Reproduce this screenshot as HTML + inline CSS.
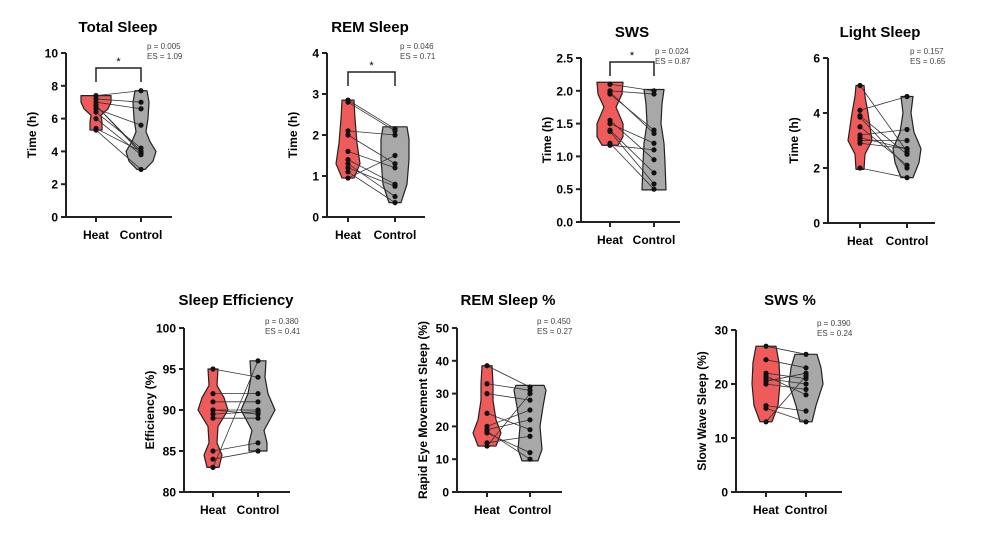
<!DOCTYPE html>
<html><head><meta charset="utf-8"><style>
body{margin:0;background:#fff;}
svg{display:block;font-family:"Liberation Sans",Arial,sans-serif;}
</style></head><body>
<svg id="s" width="982" height="546" viewBox="0 0 982 546" xmlns="http://www.w3.org/2000/svg">
<text x="118" y="32" font-size="15" font-weight="bold" text-anchor="middle">Total Sleep</text>
<text x="370" y="32" font-size="15" font-weight="bold" text-anchor="middle">REM Sleep</text>
<text x="632" y="37" font-size="15" font-weight="bold" text-anchor="middle">SWS</text>
<text x="880" y="37" font-size="15" font-weight="bold" text-anchor="middle">Light Sleep</text>
<text x="236" y="305" font-size="15" font-weight="bold" text-anchor="middle">Sleep Efficiency</text>
<text x="508" y="305" font-size="15" font-weight="bold" text-anchor="middle">REM Sleep %</text>
<text x="790" y="305" font-size="15" font-weight="bold" text-anchor="middle">SWS %</text>
</svg>
<script>
const S=document.getElementById('s');const NS='http://www.w3.org/2000/svg';
function el(t,a,txt){const e=document.createElementNS(NS,t);for(const k in a)e.setAttribute(k,a[k]);if(txt!==undefined)e.textContent=txt;S.appendChild(e);return e;}
const P=[
{ax:66,x2:172,yt:53,yb:217,min:0,max:10,ticks:[0,2,4,6,8,10],lab:"Time (h)",hx:96,cx:141,p:"0.005",es:"1.09",sig:1,sy:68,
 hv:[[5.3,6],[5.8,6],[6.2,5],[6.6,12],[7.0,15],[7.4,15]],cv:[[2.9,4],[3.4,12],[4.0,15],[4.6,9],[5.2,5],[6,7],[7,8],[7.7,6]],
 h:[7.4,7.2,6.8,6.8,6.4,6.0,5.4,5.3,7.0,6.6],c:[7.7,7.0,4.0,3.9,4.2,3.8,4.0,2.9,6.6,5.6]},
{ax:327,x2:425,yt:53,yb:217,min:0,max:4,ticks:[0,1,2,3,4],lab:"Time (h)",hx:348,cx:395,p:"0.046",es:"0.71",sig:1,sy:72,
 hv:[[0.95,6],[1.3,12],[1.8,9],[2.4,7],[2.85,6]],cv:[[0.35,6],[0.8,12],[1.4,14],[1.9,14],[2.2,12]],
 h:[2.85,2.8,2.1,2.0,1.6,1.4,1.3,1.1,0.95,1.2],c:[2.15,2.1,2.0,1.3,1.2,0.8,0.5,0.35,1.5,0.75]},
{ax:581,x2:680,yt:58,yb:222,min:0,max:2.5,ticks:[0,0.5,1,1.5,2,2.5],lab:"Time (h)",hx:610,cx:654,dec:1,p:"0.024",es:"0.87",sig:1,sy:62,
 hv:[[1.17,8],[1.3,13],[1.5,13],[1.75,6],[1.95,12],[2.13,13]],cv:[[0.49,12],[0.9,11],[1.2,10],[1.5,7],[1.8,8],[2.02,10]],
 h:[2.1,2.0,1.95,1.55,1.5,1.4,1.38,1.2,1.17,1.98],c:[2.0,1.95,1.4,0.95,1.2,0.75,0.58,0.5,1.1,1.35]},
{ax:828,x2:935,yt:58,yb:223,min:0,max:6,ticks:[0,2,4,6],lab:"Time (h)",hx:860,cx:907,p:"0.157",es:"0.65",
 hv:[[1.95,4],[2.5,5],[3.0,12],[3.5,10],[4.0,8],[4.6,5],[5.0,4]],cv:[[1.65,6],[2.2,12],[2.7,14],[3.3,7],[4.0,4],[4.6,6]],
 h:[5.0,4.1,3.9,3.5,3.2,3.0,2.9,2.0,3.85,3.1],c:[2.6,4.6,2.5,2.1,3.4,3.0,2.7,1.65,2.0,2.7]},
{ax:184,x2:290,yt:328,yb:492,min:80,max:100,ticks:[80,85,90,95,100],lab:"Efficiency (%)",hx:213,cx:258,p:"0.380",es:"0.41",
 hv:[[83,6],[84.5,9],[86,4],[88,5],[90,15],[91.5,11],[93,4],[95,5]],cv:[[85,9],[86,9],[87.5,6],[90,17],[92,10],[94,7],[96,8]],
 h:[95,92,91,90,89,85,84,83,90,89.5],c:[94,92,91,90,89,86,85,96,89.5,89.8]},
{ax:457,x2:562,yt:328,yb:492,min:0,max:50,ticks:[0,10,20,30,40,50],lab:"Rapid Eye Movement Sleep (%)",hx:487,cx:530,p:"0.450",es:"0.27",
 hv:[[14,9],[18,14],[22,9],[28,6],[33,6],[38.5,5]],cv:[[9.5,8],[13,12],[20,10],[26,13],[31,16],[32.5,14]],
 h:[38.5,33,30,24,19,18,18.5,15,14,20],c:[32,31,28,19,22,12,10,17,30,25]},
{ax:736,x2:842,yt:330,yb:492,min:0,max:30,ticks:[0,10,20,30],lab:"Slow Wave Sleep (%)",hx:766,cx:806,p:"0.390",es:"0.24",
 hv:[[13,6],[16,12],[20,14],[24,13],[27,10]],cv:[[13,6],[16,10],[20,17],[23,15],[25.5,11]],
 h:[27,24.5,22,21,20.5,20,16,15.5,13,21.5],c:[25.5,23,21,20,22,19,15,13,21.5,18]}
];
P.forEach(d=>{
 const Y=v=>d.yb-(v-d.min)/(d.max-d.min)*(d.yb-d.yt);
 el('text',{x:d.ax-30,y:(d.yt+d.yb)/2,'font-size':12,'font-weight':'bold','text-anchor':'middle',transform:`rotate(-90 ${d.ax-30} ${(d.yt+d.yb)/2})`},d.lab);
 d.ticks.forEach(t=>{el('line',{x1:d.ax-5,x2:d.ax,y1:Y(t),y2:Y(t),stroke:'#222','stroke-width':2});
  el('text',{x:d.ax-8,y:Y(t)+4.5,'font-size':12,'font-weight':'bold','text-anchor':'end'},d.dec?t.toFixed(1):t);});
 el('line',{x1:d.ax,x2:d.ax,y1:d.yt,y2:d.yb+1,stroke:'#222','stroke-width':2});
 el('line',{x1:d.ax-1,x2:d.x2,y1:d.yb,y2:d.yb,stroke:'#222','stroke-width':2});
 [d.hx,d.cx].forEach(x=>el('line',{x1:x,x2:x,y1:d.yb,y2:d.yb+5,stroke:'#222','stroke-width':2}));
 el('text',{x:d.hx,y:d.yb+22,'font-size':12,'font-weight':'bold','text-anchor':'middle'},'Heat');
 el('text',{x:d.cx,y:d.yb+22,'font-size':12,'font-weight':'bold','text-anchor':'middle'},'Control');
 el('text',{x:d.x2-25,y:d.yt-4,'font-size':8,fill:'#444'},'p = '+d.p);
 el('text',{x:d.x2-25,y:d.yt+6,'font-size':8,fill:'#444'},'ES = '+d.es);
 if(d.sig){el('path',{d:`M${d.hx} ${d.sy+14}V${d.sy}H${d.cx}V${d.sy+14}`,fill:'none',stroke:'#222','stroke-width':1.5});
  el('text',{x:(d.hx+d.cx)/2,y:d.sy-3,'font-size':11,'text-anchor':'middle'},'*');}
 function vio(x,v,fill){let l=v.map(a=>`${x-a[1]},${Y(a[0])}`),r=v.slice().reverse().map(a=>`${x+a[1]},${Y(a[0])}`);
  el('polygon',{points:l.concat(r).join(' '),fill:fill,stroke:'#222','stroke-width':1.2,'stroke-linejoin':'round'});}
 vio(d.hx,d.hv,'#ef5a5a');vio(d.cx,d.cv,'#a8a8a8');
 d.h.forEach((h,i)=>el('line',{x1:d.hx,y1:Y(h),x2:d.cx,y2:Y(d.c[i]),stroke:'#333','stroke-width':0.8}));
 d.h.forEach(v=>el('circle',{cx:d.hx,cy:Y(v),r:2.6,fill:'#111'}));
 d.c.forEach(v=>el('circle',{cx:d.cx,cy:Y(v),r:2.6,fill:'#111'}));
});
</script>
</body></html>
